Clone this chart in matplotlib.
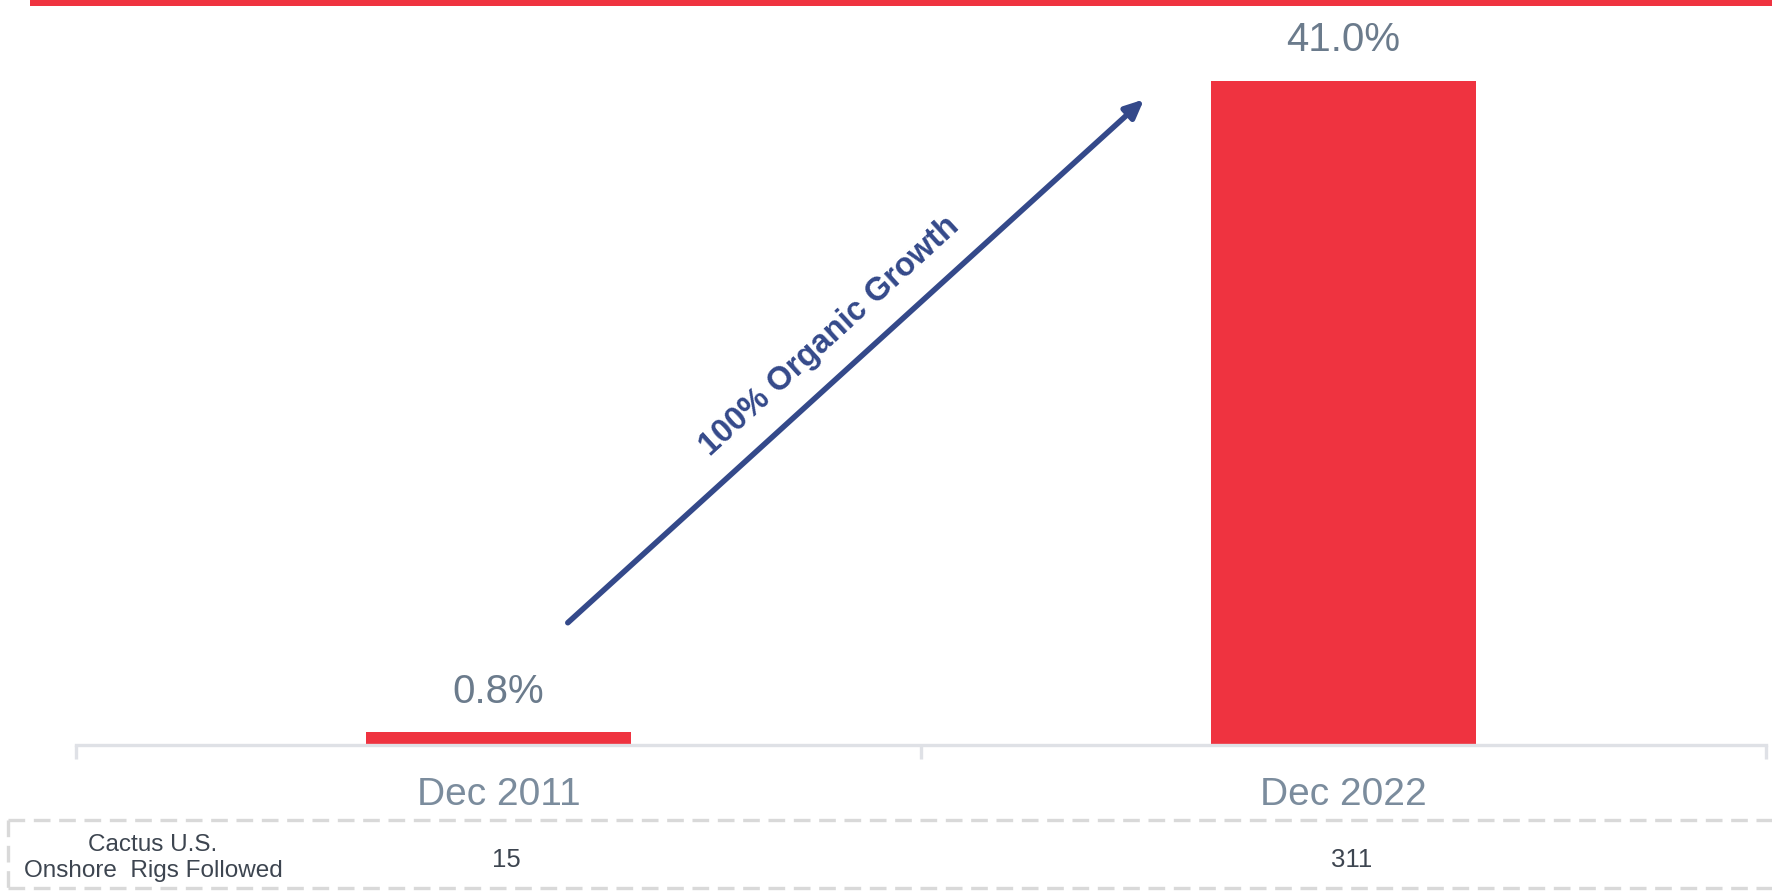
import matplotlib.pyplot as plt
from matplotlib.patches import Rectangle
from matplotlib.lines import Line2D
from matplotlib.transforms import blended_transform_factory

plt.rcParams['font.family'] = ['Liberation Sans', 'DejaVu Sans']

# share of U.S. onshore rigs followed
periods = ['Dec 2011', 'Dec 2022']
share = [0.8, 41.0]
rigs = [15, 311]
row_label = 'Cactus U.S.\nOnshore  Rigs Followed'
arrow_text = '100% Organic Growth'

red = '#ef3340'
navy = '#34498a'
axis_grey = '#dfe1e6'
label_grey = '#6b7b8c'
tick_grey = '#7b8c9d'
text_dark = '#3d4550'

W, H = 1772, 891
fig = plt.figure(figsize=(W / 100, H / 100), dpi=100)
ax = fig.add_axes([76 / W, (H - 745) / H, 1690 / W, 715 / H])

x = list(range(len(periods)))
bars = ax.bar(x, share, width=0.313, color=red, zorder=2)
ax.set_xlim(-0.5, len(periods) - 0.5)
ax.set_ylim(0, 44.15)

for b, v in zip(bars, share):
    ax.annotate(f'{v:.1f}%', (b.get_x() + b.get_width() / 2, v),
                xytext=(0, 15.5), textcoords='offset points',
                ha='center', va='bottom', fontsize=29, color=label_grey)

for s in ['top', 'left', 'right']:
    ax.spines[s].set_visible(False)
ax.spines['bottom'].set_color(axis_grey)
ax.spines['bottom'].set_linewidth(2.4)
ax.set_yticks([])
ax.set_xticks(x)
ax.set_xticklabels(periods, fontsize=28, color=tick_grey)
ax.tick_params(axis='x', which='major', length=0, pad=23)
ax.set_xticks([i - 0.5 for i in range(len(periods) + 1)], minor=True)
ax.tick_params(axis='x', which='minor', length=10, width=2.4,
               color=axis_grey, direction='out')

# growth arrow with its caption
ax.annotate('', xy=(0.632, 0.903), xytext=(0.291, 0.171),
            xycoords='axes fraction', textcoords='axes fraction',
            arrowprops=dict(arrowstyle='-|>,head_length=1.1,head_width=0.5',
                            color=navy, lw=4, shrinkA=0, shrinkB=0))
ax.text(0.446, 0.571, arrow_text, transform=ax.transAxes, rotation=42.4,
        rotation_mode='anchor', ha='center', va='center',
        fontsize=23.5, fontweight='bold', color=navy)

# red rule across the top
fig.patches.append(Rectangle((30 / W, 1 - 6 / H), 1, 6 / H,
                             transform=fig.transFigure, color=red, lw=0))

# dashed box holding the rig counts
dash = dict(color='#d9d9d9', lw=2.4, linestyle=(0, (5, 2.6)),
            transform=fig.transFigure)
for yy in [820, 888]:
    fig.add_artist(Line2D([8 / W, 1], [1 - yy / H] * 2, **dash))
fig.add_artist(Line2D([8 / W] * 2, [1 - 820 / H, 1 - 888 / H], **dash))

fig.text(153 / W, 1 - 858 / H, row_label, ha='center', va='center',
         fontsize=17.5, color=text_dark, linespacing=1.2)
trans = blended_transform_factory(ax.transData, fig.transFigure)
for xi, n in zip(x, rigs):
    ax.annotate(str(n), (xi, 1 - 860 / H), xycoords=trans,
                xytext=(6, 0), textcoords='offset points', ha='center',
                va='center', fontsize=18.5, color=text_dark)

fig.savefig('out.png', dpi=100)
